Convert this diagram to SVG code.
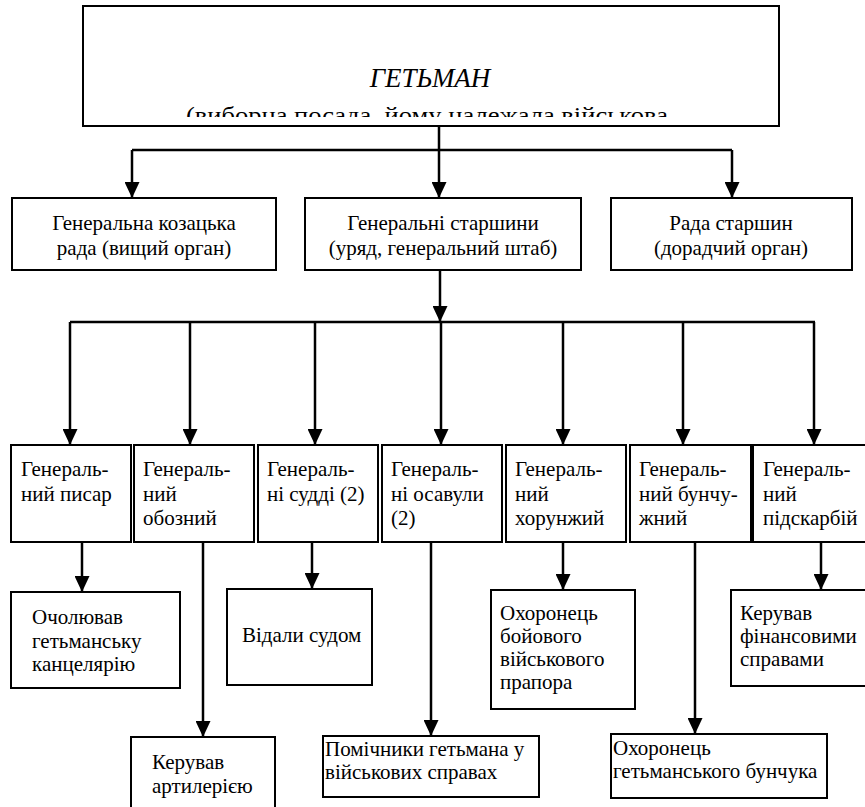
<svg xmlns="http://www.w3.org/2000/svg" width="865" height="807" viewBox="0 0 865 807">
<defs>
  <marker id="arr" markerUnits="userSpaceOnUse" viewBox="0 0 16 15" refX="15" refY="7.5" markerWidth="16" markerHeight="15" orient="auto">
    <path d="M0,0 L16,7.5 L0,15 z" fill="#000"/>
  </marker>
  <clipPath id="topclip"><rect x="84" y="7" width="694" height="110"/></clipPath>
</defs>
<rect width="865" height="807" fill="#fff"/>

<g id="connectors" fill="none" stroke="#000" stroke-width="2.5">
  <path d="M439,126 V150 M132,150 H732"/>
  <path d="M70,322 H815"/>
  <g marker-end="url(#arr)">
    <path d="M132,150 V197"/>
    <path d="M439,150 V197"/>
    <path d="M732,150 V197"/>
    <path d="M440,270 V321"/>
    <path d="M70,322 V444"/>
    <path d="M190,322 V444"/>
    <path d="M315,322 V444"/>
    <path d="M441,322 V444"/>
    <path d="M563,322 V444"/>
    <path d="M683,322 V444"/>
    <path d="M814,322 V444"/>
    <path d="M82,542 V591"/>
    <path d="M203,542 V736"/>
    <path d="M312,542 V588"/>
    <path d="M431,542 V735"/>
    <path d="M563,542 V589"/>
    <path d="M695,542 V733"/>
    <path d="M821,542 V589"/>
  </g>
</g>

<g id="hetman">
  <rect fill="#fff" stroke="#000" stroke-width="2" x="83" y="6" width="696" height="120"/>
  <text font-family="Times New Roman, Liberation Serif, serif" font-size="27" font-style="italic" text-anchor="middle" x="430" y="87">ГЕТЬМАН</text>
  <g clip-path="url(#topclip)">
    <text font-family="Times New Roman, Liberation Serif, serif" font-size="24" x="186" y="123" textLength="482" lengthAdjust="spacingAndGlyphs">(виборна посада, йому належала військова</text>
  </g>
</g>

<g id="rada">
  <rect fill="#fff" stroke="#000" stroke-width="2" x="12" y="198" width="264" height="72"/>
  <text font-family="Times New Roman, Liberation Serif, serif" font-size="21" text-anchor="middle" x="144" y="230">Генеральна козацька</text>
  <text font-family="Times New Roman, Liberation Serif, serif" font-size="21" text-anchor="middle" x="144" y="255">рада (вищий орган)</text>
</g>
<g id="starshyny">
  <rect fill="#fff" stroke="#000" stroke-width="2" x="305" y="198" width="276" height="72"/>
  <text font-family="Times New Roman, Liberation Serif, serif" font-size="21" text-anchor="middle" x="443" y="230">Генеральні старшини</text>
  <text font-family="Times New Roman, Liberation Serif, serif" font-size="21" text-anchor="middle" x="443" y="255">(уряд, генеральний штаб)</text>
</g>
<g id="rada-starshyn">
  <rect fill="#fff" stroke="#000" stroke-width="2" x="611" y="198" width="241" height="72"/>
  <text font-family="Times New Roman, Liberation Serif, serif" font-size="21" text-anchor="middle" x="731" y="230">Рада старшин</text>
  <text font-family="Times New Roman, Liberation Serif, serif" font-size="21" text-anchor="middle" x="731" y="255">(дорадчий орган)</text>
</g>

<g id="pysar">
  <rect fill="#fff" stroke="#000" stroke-width="2" x="11" y="445" width="120" height="97"/>
  <text font-family="Times New Roman, Liberation Serif, serif" font-size="21" x="21" y="476">Генераль-</text>
  <text font-family="Times New Roman, Liberation Serif, serif" font-size="21" x="21" y="500.5">ний писар</text>
</g>
<g id="oboznyi">
  <rect fill="#fff" stroke="#000" stroke-width="2" x="134" y="445" width="120" height="97"/>
  <text font-family="Times New Roman, Liberation Serif, serif" font-size="21" x="143" y="476">Генераль-</text>
  <text font-family="Times New Roman, Liberation Serif, serif" font-size="21" x="143" y="500.5">ний</text>
  <text font-family="Times New Roman, Liberation Serif, serif" font-size="21" x="143" y="525">обозний</text>
</g>
<g id="suddi">
  <rect fill="#fff" stroke="#000" stroke-width="2" x="258" y="445" width="120" height="97"/>
  <text font-family="Times New Roman, Liberation Serif, serif" font-size="21" x="267" y="476">Генераль-</text>
  <text font-family="Times New Roman, Liberation Serif, serif" font-size="21" x="267" y="500.5">ні судді (2)</text>
</g>
<g id="osavuly">
  <rect fill="#fff" stroke="#000" stroke-width="2" x="382" y="445" width="120" height="97"/>
  <text font-family="Times New Roman, Liberation Serif, serif" font-size="21" x="391" y="476">Генераль-</text>
  <text font-family="Times New Roman, Liberation Serif, serif" font-size="21" x="391" y="500.5">ні осавули</text>
  <text font-family="Times New Roman, Liberation Serif, serif" font-size="21" x="391" y="525">(2)</text>
</g>
<g id="khorunzhyi">
  <rect fill="#fff" stroke="#000" stroke-width="2" x="506" y="445" width="120" height="97"/>
  <text font-family="Times New Roman, Liberation Serif, serif" font-size="21" x="515" y="476">Генераль-</text>
  <text font-family="Times New Roman, Liberation Serif, serif" font-size="21" x="515" y="500.5">ний</text>
  <text font-family="Times New Roman, Liberation Serif, serif" font-size="21" x="515" y="525">хорунжий</text>
</g>
<g id="bunchuzhnyi">
  <rect fill="#fff" stroke="#000" stroke-width="2" x="630" y="445" width="121" height="97"/>
  <text font-family="Times New Roman, Liberation Serif, serif" font-size="21" x="639" y="476">Генераль-</text>
  <text font-family="Times New Roman, Liberation Serif, serif" font-size="21" x="639" y="500.5">ний бунчу-</text>
  <text font-family="Times New Roman, Liberation Serif, serif" font-size="21" x="639" y="525">жний</text>
</g>
<g id="pidskarbii">
  <rect fill="#fff" stroke="#000" stroke-width="2" x="753" y="445" width="122" height="97"/>
  <text font-family="Times New Roman, Liberation Serif, serif" font-size="21" x="763" y="476">Генераль-</text>
  <text font-family="Times New Roman, Liberation Serif, serif" font-size="21" x="763" y="500.5">ний</text>
  <text font-family="Times New Roman, Liberation Serif, serif" font-size="21" x="763" y="525">підскарбій</text>
</g>

<g id="kantseliariia">
  <rect fill="#fff" stroke="#000" stroke-width="2" x="11" y="592" width="169" height="96"/>
  <text font-family="Times New Roman, Liberation Serif, serif" font-size="21" x="32" y="624">Очолював</text>
  <text font-family="Times New Roman, Liberation Serif, serif" font-size="21" x="32" y="647.5">гетьманську</text>
  <text font-family="Times New Roman, Liberation Serif, serif" font-size="21" x="32" y="671">канцелярію</text>
</g>
<g id="artyleriia">
  <rect fill="#fff" stroke="#000" stroke-width="2" x="131" y="737" width="144" height="80"/>
  <text font-family="Times New Roman, Liberation Serif, serif" font-size="21" x="152" y="769">Керував</text>
  <text font-family="Times New Roman, Liberation Serif, serif" font-size="21" x="152" y="793">артилерією</text>
</g>
<g id="sud">
  <rect fill="#fff" stroke="#000" stroke-width="2" x="227" y="589" width="145" height="96"/>
  <text font-family="Times New Roman, Liberation Serif, serif" font-size="21" x="242" y="642">Відали судом</text>
</g>
<g id="pomichnyky">
  <rect fill="#fff" stroke="#000" stroke-width="2" x="323" y="736" width="216" height="61"/>
  <text font-family="Times New Roman, Liberation Serif, serif" font-size="21" x="325" y="756">Помічники гетьмана у</text>
  <text font-family="Times New Roman, Liberation Serif, serif" font-size="21" x="325" y="779">військових справах</text>
</g>
<g id="prapor">
  <rect fill="#fff" stroke="#000" stroke-width="2" x="491" y="590" width="144" height="119"/>
  <text font-family="Times New Roman, Liberation Serif, serif" font-size="21" x="500" y="620">Охоронець</text>
  <text font-family="Times New Roman, Liberation Serif, serif" font-size="21" x="500" y="643">бойового</text>
  <text font-family="Times New Roman, Liberation Serif, serif" font-size="21" x="500" y="666">військового</text>
  <text font-family="Times New Roman, Liberation Serif, serif" font-size="21" x="500" y="689">прапора</text>
</g>
<g id="bunchuk">
  <rect fill="#fff" stroke="#000" stroke-width="2" x="611" y="734" width="216" height="64"/>
  <text font-family="Times New Roman, Liberation Serif, serif" font-size="21" x="613" y="755">Охоронець</text>
  <text font-family="Times New Roman, Liberation Serif, serif" font-size="21" x="613" y="778">гетьманського бунчука</text>
</g>
<g id="finansy">
  <rect fill="#fff" stroke="#000" stroke-width="2" x="731" y="590" width="144" height="96"/>
  <text font-family="Times New Roman, Liberation Serif, serif" font-size="21" x="740" y="620">Керував</text>
  <text font-family="Times New Roman, Liberation Serif, serif" font-size="21" x="740" y="643">фінансовими</text>
  <text font-family="Times New Roman, Liberation Serif, serif" font-size="21" x="740" y="666">справами</text>
</g>
</svg>
